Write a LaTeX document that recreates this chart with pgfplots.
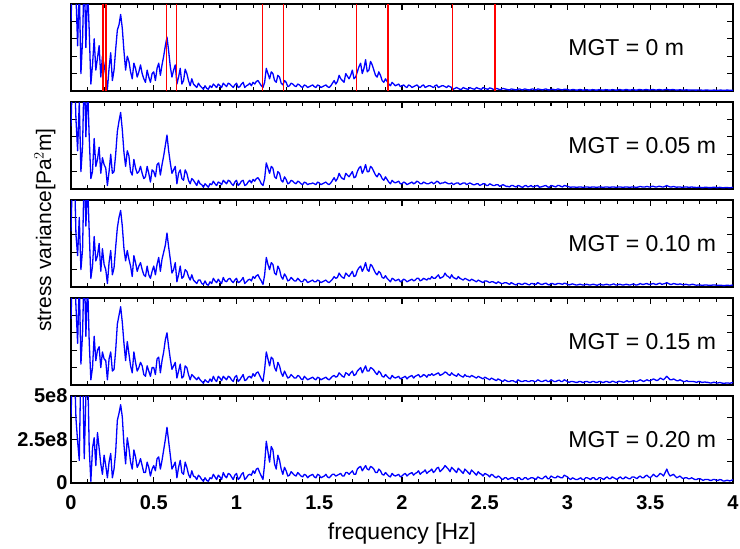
\documentclass[border=0pt]{standalone}
\usepackage{fontspec}
\setmainfont{Liberation Sans}
\usepackage{pgfplots}
\usepackage{pgfplotstable}
\pgfplotsset{compat=1.18}

% stress variance spectra in units of 1e8 Pa^2 m ; a: MGT=0, b: 0.05, c: 0.10, d: 0.15, e: 0.20
\pgfplotstableread{
f a b c d e
0.00 4.0 3.6 3.2 3.8 3.8
0.01 7.0 7.0 7.0 7.0 7.0
0.02 7.0 7.0 7.0 7.0 7.0
0.03 5.5 4.0 3.0 4.5 3.7
0.04 2.6 2.2 1.8 2.4 2.4
0.05 6.0 5.0 4.0 6.0 1.3
0.06 1.0 1.0 1.0 1.2 7.0
0.07 3.0 2.5 2.2 3.0 7.0
0.08 7.0 7.0 7.0 7.0 1.4
0.09 2.5 3.0 3.5 2.8 5.0
0.10 6.0 6.0 6.0 6.0 7.0
0.11 3.5 3.0 3.2 2.5 2.0
0.12 0.4 0.6 0.5 0.3 0.1
0.13 1.5 1.0 1.2 1.0 2.0
0.14 3.0 2.9 2.9 2.8 2.6
0.15 1.2 1.3 1.5 1.4 1.0
0.16 1.9 1.7 1.8 2.0 2.9
0.17 2.6 2.4 2.5 2.2 2.0
0.18 0.8 0.9 0.9 1.0 1.1
0.19 2.0 1.8 2.2 1.9 0.5
0.20 1.5 1.4 1.3 1.5 1.6
0.21 0.9 1.2 1.0 1.4 1.0
0.22 0.1 0.2 0.2 0.3 0.3
0.23 1.3 1.0 1.4 1.5 1.2
0.24 2.2 2.0 2.1 1.9 1.7
0.25 0.6 0.9 0.7 0.8 0.3
0.26 1.2 1.0 1.1 0.9 0.8
0.27 2.4 2.0 2.3 2.0 1.8
0.28 3.5 3.3 3.4 3.5 3.6
0.29 3.8 3.9 4.0 4.0 4.0
0.30 4.4 4.4 4.4 4.5 4.5
0.31 3.6 3.4 3.5 3.6 3.8
0.32 2.3 2.1 2.2 2.4 2.2
0.33 1.2 1.3 1.5 1.4 1.1
0.34 2.0 2.2 2.1 2.5 2.6
0.35 1.7 1.9 1.6 1.8 2.0
0.36 1.1 1.0 1.2 1.1 1.2
0.37 0.7 0.8 0.6 0.7 0.8
0.38 1.6 1.7 1.8 1.9 1.9
0.39 1.3 1.2 1.4 1.3 1.5
0.40 0.8 0.9 0.9 0.8 0.9
0.41 1.1 1.0 1.2 1.0 1.1
0.42 1.5 1.3 1.4 1.3 1.4
0.43 1.0 0.9 1.0 1.1 1.0
0.44 0.7 0.6 0.7 0.6 0.6
0.45 0.5 0.7 0.6 0.5 0.6
0.46 1.2 1.3 1.2 1.1 1.2
0.47 0.8 0.9 0.7 0.8 0.9
0.48 0.5 0.4 0.5 0.5 0.4
0.49 1.0 1.1 0.9 1.0 0.8
0.50 1.1 1.0 1.2 1.0 1.0
0.51 0.6 0.7 0.7 0.6 0.7
0.52 1.3 1.4 1.3 1.5 1.4
0.53 1.6 1.5 1.7 1.6 1.5
0.54 0.9 0.8 0.9 0.7 0.8
0.55 1.5 1.4 1.6 1.4 1.3
0.56 2.0 1.9 2.0 1.9 1.9
0.57 2.6 2.5 2.4 2.6 2.5
0.58 3.1 3.1 3.1 3.0 3.2
0.59 2.3 2.2 2.3 2.2 2.4
0.60 1.4 1.5 1.6 1.5 1.6
0.61 0.8 0.9 0.8 0.9 0.8
0.62 1.2 1.1 1.0 1.1 1.0
0.63 1.5 1.3 1.4 1.3 1.2
0.64 0.4 0.3 0.3 0.4 0.3
0.65 0.8 0.9 0.7 0.8 0.9
0.66 1.3 1.1 1.2 1.2 1.3
0.67 0.4 0.6 0.5 0.4 0.6
0.68 0.6 0.5 0.6 0.5 0.5
0.69 1.25 1.1 1.0 1.1 1.2
0.70 1.0 0.9 0.9 1.0 0.9
0.71 0.6 0.5 0.6 0.6 0.5
0.72 0.3 0.3 0.4 0.3 0.3
0.73 0.7 0.6 0.7 0.6 0.7
0.74 0.4 0.5 0.4 0.5 0.4
0.75 0.3 0.35 0.3 0.4 0.35
0.76 0.2 0.2 0.2 0.3 0.2
0.77 0.45 0.5 0.4 0.45 0.45
0.78 0.3 0.3 0.4 0.3 0.35
0.79 0.2 0.25 0.2 0.2 0.2
0.80 0.1 0.1 0.15 0.1 0.1
0.81 0.3 0.3 0.35 0.3 0.3
0.82 0.15 0.2 0.15 0.2 0.15
0.83 0.1 0.1 0.1 0.15 0.1
0.84 0.3 0.3 0.3 0.35 0.3
0.85 0.2 0.25 0.2 0.2 0.25
0.86 0.4 0.45 0.5 0.5 0.5
0.87 0.3 0.3 0.35 0.3 0.35
0.88 0.2 0.2 0.25 0.2 0.2
0.89 0.4 0.4 0.45 0.5 0.45
0.90 0.3 0.35 0.3 0.4 0.35
0.91 0.2 0.25 0.2 0.25 0.2
0.92 0.45 0.5 0.55 0.5 0.6
0.93 0.35 0.4 0.35 0.4 0.4
0.94 0.25 0.3 0.3 0.3 0.3
0.95 0.45 0.5 0.45 0.5 0.55
0.96 0.4 0.45 0.5 0.45 0.5
0.97 0.3 0.3 0.35 0.3 0.35
0.98 0.2 0.2 0.25 0.2 0.2
0.99 0.35 0.4 0.4 0.45 0.45
1.00 0.45 0.5 0.5 0.55 0.55
1.01 0.2 0.2 0.25 0.2 0.2
1.02 0.25 0.3 0.3 0.3 0.3
1.03 0.4 0.45 0.4 0.45 0.5
1.04 0.5 0.5 0.55 0.6 0.6
1.05 0.2 0.2 0.2 0.25 0.2
1.06 0.3 0.25 0.3 0.3 0.3
1.07 0.35 0.4 0.4 0.45 0.45
1.08 0.45 0.5 0.45 0.5 0.5
1.09 0.3 0.35 0.35 0.4 0.45
1.10 0.5 0.55 0.6 0.65 0.7
1.11 0.4 0.45 0.5 0.5 0.55
1.12 0.55 0.6 0.65 0.7 0.8
1.13 0.6 0.65 0.7 0.75 0.85
1.14 0.45 0.5 0.5 0.55 0.6
1.15 0.3 0.3 0.35 0.35 0.4
1.16 0.2 0.2 0.15 0.2 0.2
1.17 0.5 0.6 0.7 0.9 1.1
1.18 1.3 1.5 1.7 1.9 2.4
1.19 1.0 1.2 1.3 1.5 1.8
1.20 0.7 0.9 1.0 1.1 1.2
1.21 1.1 1.3 1.4 1.6 2.1
1.22 1.0 1.2 1.3 1.5 1.9
1.23 0.6 0.7 0.8 1.0 1.1
1.24 0.5 0.6 0.7 0.8 0.8
1.25 0.9 1.0 1.2 1.3 1.6
1.26 0.8 0.9 1.0 1.1 1.3
1.27 0.45 0.5 0.6 0.7 0.8
1.28 0.35 0.4 0.45 0.5 0.5
1.29 0.6 0.7 0.75 0.8 0.9
1.30 0.5 0.55 0.6 0.6 0.7
1.31 0.25 0.3 0.35 0.4 0.4
1.32 0.3 0.35 0.4 0.45 0.45
1.33 0.45 0.5 0.55 0.6 0.65
1.34 0.4 0.45 0.45 0.5 0.55
1.35 0.3 0.35 0.35 0.4 0.45
1.36 0.25 0.3 0.35 0.4 0.4
1.37 0.4 0.45 0.5 0.55 0.6
1.38 0.35 0.4 0.4 0.5 0.5
1.39 0.25 0.3 0.3 0.35 0.4
1.40 0.2 0.25 0.3 0.3 0.35
1.41 0.35 0.4 0.45 0.5 0.5
1.42 0.3 0.35 0.4 0.4 0.45
1.43 0.2 0.25 0.25 0.3 0.3
1.44 0.25 0.3 0.3 0.35 0.4
1.45 0.3 0.3 0.35 0.4 0.45
1.46 0.35 0.35 0.4 0.45 0.5
1.47 0.25 0.3 0.3 0.35 0.35
1.48 0.2 0.25 0.3 0.3 0.3
1.49 0.35 0.4 0.4 0.45 0.5
1.50 0.3 0.35 0.35 0.4 0.45
1.51 0.2 0.25 0.25 0.3 0.3
1.52 0.25 0.3 0.3 0.35 0.35
1.53 0.3 0.35 0.35 0.4 0.4
1.54 0.35 0.4 0.4 0.45 0.5
1.55 0.25 0.3 0.3 0.35 0.35
1.56 0.2 0.25 0.25 0.3 0.3
1.57 0.3 0.35 0.35 0.4 0.4
1.58 0.45 0.5 0.45 0.5 0.5
1.59 0.6 0.65 0.6 0.55 0.5
1.60 0.4 0.45 0.5 0.45 0.4
1.61 0.55 0.6 0.55 0.5 0.45
1.62 0.9 0.9 0.8 0.7 0.5
1.63 0.7 0.7 0.65 0.6 0.55
1.64 0.6 0.6 0.55 0.5 0.4
1.65 0.5 0.55 0.5 0.45 0.4
1.66 1.0 0.9 0.8 0.7 0.6
1.67 0.85 0.8 0.7 0.65 0.6
1.68 0.7 0.7 0.6 0.55 0.5
1.69 0.9 0.85 0.75 0.7 0.6
1.70 1.2 1.0 0.9 0.8 0.7
1.71 0.7 0.65 0.6 0.55 0.5
1.72 0.8 0.7 0.65 0.6 0.5
1.73 1.1 1.0 0.95 0.8 0.8
1.74 1.4 1.2 1.1 0.9 0.9
1.75 1.6 1.3 1.2 1.0 0.95
1.76 1.0 0.9 0.9 0.7 0.7
1.77 1.3 1.1 1.1 0.9 0.85
1.78 1.8 1.4 1.4 1.1 1.0
1.79 1.1 1.0 1.0 0.8 0.8
1.80 1.2 1.0 0.9 0.8 0.75
1.81 1.7 1.3 1.3 1.0 0.95
1.82 1.5 1.2 1.2 0.95 0.9
1.83 1.2 1.0 1.0 0.85 0.8
1.84 0.9 0.8 0.8 0.7 0.6
1.85 0.8 0.7 0.7 0.6 0.6
1.86 1.1 0.9 0.9 0.8 0.8
1.87 0.9 0.8 0.8 0.7 0.7
1.88 0.6 0.6 0.55 0.5 0.5
1.89 0.5 0.5 0.5 0.45 0.45
1.90 0.7 0.7 0.65 0.6 0.6
1.91 0.55 0.55 0.5 0.5 0.5
1.92 0.4 0.4 0.4 0.4 0.4
1.93 0.3 0.3 0.3 0.35 0.35
1.94 0.5 0.5 0.5 0.55 0.55
1.95 0.4 0.4 0.45 0.45 0.45
1.96 0.3 0.35 0.35 0.4 0.4
1.97 0.35 0.4 0.4 0.45 0.45
1.98 0.4 0.45 0.45 0.5 0.5
1.99 0.25 0.3 0.3 0.35 0.35
2.00 0.3 0.3 0.35 0.4 0.4
2.01 0.35 0.4 0.45 0.45 0.5
2.02 0.25 0.35 0.4 0.5 0.55
2.03 0.2 0.25 0.3 0.35 0.4
2.04 0.35 0.3 0.35 0.45 0.5
2.05 0.3 0.35 0.4 0.5 0.55
2.06 0.2 0.4 0.45 0.55 0.6
2.07 0.25 0.3 0.35 0.4 0.45
2.08 0.3 0.35 0.4 0.5 0.55
2.09 0.35 0.45 0.5 0.55 0.6
2.10 0.25 0.4 0.5 0.6 0.7
2.11 0.2 0.3 0.35 0.45 0.5
2.12 0.3 0.3 0.4 0.5 0.6
2.13 0.35 0.4 0.5 0.6 0.65
2.14 0.2 0.35 0.45 0.55 0.75
2.15 0.25 0.3 0.4 0.45 0.55
2.16 0.3 0.3 0.5 0.6 0.65
2.17 0.3 0.35 0.45 0.55 0.7
2.18 0.25 0.4 0.6 0.65 0.8
2.19 0.2 0.3 0.5 0.55 0.6
2.20 0.3 0.35 0.5 0.6 0.7
2.21 0.35 0.45 0.6 0.65 0.85
2.22 0.2 0.4 0.7 0.7 0.9
2.23 0.25 0.3 0.5 0.55 0.65
2.24 0.3 0.35 0.55 0.6 0.75
2.25 0.3 0.35 0.6 0.65 0.85
2.26 0.25 0.4 0.8 0.75 1.0
2.27 0.2 0.35 0.65 0.7 0.9
2.28 0.3 0.3 0.6 0.6 0.8
2.29 0.25 0.3 0.5 0.55 0.65
2.30 0.2 0.35 0.7 0.7 0.9
2.31 0.1 0.25 0.55 0.6 0.8
2.32 0.15 0.3 0.5 0.55 0.7
2.33 0.2 0.35 0.45 0.5 0.6
2.34 0.15 0.35 0.6 0.65 0.85
2.35 0.1 0.25 0.5 0.55 0.75
2.36 0.1 0.3 0.45 0.5 0.65
2.37 0.2 0.35 0.4 0.45 0.55
2.38 0.15 0.35 0.5 0.6 0.8
2.39 0.12 0.25 0.45 0.5 0.7
2.40 0.1 0.3 0.4 0.5 0.6
2.41 0.2 0.35 0.35 0.45 0.5
2.42 0.15 0.3 0.45 0.55 0.75
2.43 0.12 0.25 0.4 0.5 0.65
2.44 0.1 0.25 0.35 0.45 0.55
2.45 0.2 0.3 0.3 0.4 0.45
2.46 0.15 0.3 0.4 0.5 0.65
2.47 0.12 0.2 0.35 0.45 0.55
2.48 0.1 0.25 0.3 0.4 0.5
2.49 0.2 0.3 0.25 0.35 0.4
2.50 0.15 0.3 0.35 0.45 0.55
2.51 0.12 0.2 0.35 0.4 0.5
2.52 0.1 0.2 0.3 0.35 0.45
2.53 0.18 0.3 0.25 0.3 0.35
2.54 0.15 0.25 0.3 0.4 0.5
2.55 0.1 0.2 0.3 0.35 0.45
2.56 0.1 0.2 0.25 0.3 0.35
2.57 0.15 0.25 0.2 0.25 0.3
2.58 0.12 0.25 0.3 0.35 0.4
2.59 0.08 0.15 0.25 0.3 0.35
2.60 0.1 0.2 0.2 0.25 0.25
2.61 0.15 0.25 0.2 0.2 0.2
2.62 0.12 0.2 0.25 0.3 0.3
2.63 0.1 0.15 0.25 0.25 0.3
2.64 0.08 0.15 0.2 0.2 0.2
2.65 0.06 0.12 0.15 0.2 0.25
2.66 0.12 0.2 0.25 0.25 0.3
2.67 0.1 0.2 0.2 0.25 0.3
2.68 0.08 0.15 0.15 0.2 0.2
2.69 0.06 0.12 0.12 0.15 0.2
2.70 0.1 0.2 0.2 0.3 0.3
2.71 0.12 0.18 0.2 0.25 0.3
2.72 0.08 0.12 0.15 0.2 0.2
2.73 0.06 0.1 0.15 0.2 0.2
2.74 0.12 0.18 0.22 0.25 0.3
2.75 0.1 0.2 0.2 0.25 0.3
2.76 0.07 0.12 0.15 0.2 0.2
2.77 0.06 0.15 0.12 0.2 0.25
2.78 0.1 0.2 0.2 0.25 0.3
2.79 0.12 0.12 0.2 0.25 0.3
2.80 0.08 0.15 0.15 0.2 0.25
2.81 0.06 0.18 0.15 0.2 0.2
2.82 0.12 0.2 0.25 0.3 0.35
2.83 0.1 0.1 0.2 0.25 0.3
2.84 0.08 0.12 0.15 0.2 0.25
2.85 0.06 0.15 0.15 0.2 0.25
2.86 0.1 0.18 0.2 0.25 0.35
2.87 0.12 0.2 0.22 0.28 0.4
2.88 0.07 0.12 0.15 0.2 0.25
2.89 0.06 0.1 0.12 0.2 0.25
2.90 0.1 0.2 0.2 0.3 0.4
2.91 0.1 0.18 0.2 0.25 0.35
2.92 0.08 0.15 0.15 0.2 0.3
2.93 0.06 0.12 0.15 0.2 0.3
2.94 0.12 0.2 0.2 0.25 0.4
2.95 0.1 0.2 0.2 0.28 0.35
2.96 0.08 0.15 0.18 0.2 0.3
2.97 0.06 0.12 0.15 0.2 0.3
2.98 0.1 0.2 0.22 0.3 0.45
2.99 0.1 0.18 0.2 0.25 0.4
3.00 0.08 0.15 0.15 0.2 0.35
3.01 0.06 0.12 0.12 0.15 0.25
3.02 0.06 0.1 0.15 0.2 0.2
3.03 0.08 0.12 0.18 0.2 0.3
3.04 0.08 0.12 0.15 0.18 0.25
3.05 0.05 0.1 0.12 0.15 0.2
3.06 0.05 0.1 0.12 0.15 0.2
3.07 0.08 0.12 0.15 0.2 0.25
3.08 0.08 0.12 0.15 0.2 0.3
3.09 0.05 0.1 0.12 0.15 0.2
3.10 0.05 0.1 0.12 0.15 0.2
3.11 0.08 0.12 0.15 0.2 0.3
3.12 0.07 0.12 0.15 0.2 0.3
3.13 0.05 0.1 0.12 0.15 0.25
3.14 0.05 0.1 0.12 0.15 0.2
3.15 0.08 0.12 0.15 0.2 0.3
3.16 0.07 0.12 0.15 0.2 0.3
3.17 0.05 0.1 0.12 0.15 0.2
3.18 0.05 0.1 0.1 0.15 0.2
3.19 0.08 0.12 0.15 0.2 0.3
3.20 0.07 0.12 0.15 0.2 0.3
3.21 0.05 0.1 0.12 0.15 0.25
3.22 0.05 0.1 0.12 0.15 0.2
3.23 0.08 0.12 0.15 0.2 0.3
3.24 0.07 0.12 0.15 0.2 0.35
3.25 0.05 0.1 0.12 0.15 0.25
3.26 0.05 0.1 0.12 0.15 0.25
3.27 0.08 0.12 0.15 0.22 0.35
3.28 0.07 0.12 0.18 0.2 0.3
3.29 0.05 0.1 0.12 0.15 0.25
3.30 0.05 0.1 0.12 0.15 0.2
3.31 0.08 0.12 0.15 0.22 0.3
3.32 0.08 0.12 0.15 0.2 0.35
3.33 0.05 0.1 0.12 0.18 0.25
3.34 0.05 0.1 0.12 0.15 0.25
3.35 0.08 0.12 0.15 0.2 0.35
3.36 0.08 0.12 0.15 0.25 0.3
3.37 0.05 0.1 0.12 0.18 0.25
3.38 0.05 0.1 0.12 0.2 0.25
3.39 0.08 0.12 0.15 0.22 0.35
3.40 0.08 0.12 0.18 0.25 0.35
3.41 0.05 0.1 0.12 0.2 0.3
3.42 0.05 0.1 0.12 0.2 0.25
3.43 0.08 0.12 0.15 0.25 0.35
3.44 0.08 0.15 0.2 0.3 0.4
3.45 0.06 0.12 0.15 0.25 0.3
3.46 0.06 0.12 0.15 0.2 0.3
3.47 0.08 0.12 0.18 0.25 0.4
3.48 0.08 0.15 0.2 0.3 0.45
3.49 0.06 0.12 0.15 0.25 0.35
3.50 0.06 0.12 0.15 0.25 0.3
3.51 0.08 0.15 0.18 0.3 0.4
3.52 0.08 0.15 0.2 0.35 0.5
3.53 0.06 0.12 0.15 0.3 0.4
3.54 0.06 0.12 0.15 0.25 0.35
3.55 0.08 0.15 0.2 0.3 0.45
3.56 0.08 0.15 0.22 0.4 0.55
3.57 0.06 0.12 0.15 0.35 0.5
3.58 0.06 0.12 0.18 0.3 0.4
3.59 0.08 0.15 0.2 0.4 0.6
3.60 0.1 0.2 0.25 0.5 0.8
3.61 0.07 0.15 0.2 0.4 0.55
3.62 0.06 0.12 0.15 0.3 0.4
3.63 0.08 0.12 0.15 0.3 0.45
3.64 0.08 0.15 0.2 0.35 0.5
3.65 0.06 0.12 0.18 0.3 0.4
3.66 0.05 0.1 0.15 0.25 0.3
3.67 0.06 0.12 0.15 0.25 0.35
3.68 0.07 0.12 0.18 0.3 0.4
3.69 0.06 0.1 0.15 0.25 0.3
3.70 0.05 0.1 0.12 0.2 0.25
3.71 0.06 0.12 0.15 0.2 0.3
3.72 0.07 0.12 0.15 0.25 0.3
3.73 0.05 0.1 0.12 0.2 0.25
3.74 0.05 0.1 0.12 0.2 0.25
3.75 0.06 0.12 0.15 0.2 0.3
3.76 0.06 0.1 0.15 0.2 0.25
3.77 0.05 0.1 0.12 0.18 0.2
3.78 0.05 0.08 0.1 0.15 0.2
3.79 0.06 0.1 0.12 0.2 0.25
3.80 0.06 0.1 0.12 0.2 0.25
3.81 0.05 0.08 0.1 0.15 0.2
3.82 0.04 0.08 0.1 0.15 0.15
3.83 0.05 0.1 0.12 0.18 0.2
3.84 0.06 0.1 0.12 0.15 0.2
3.85 0.05 0.08 0.1 0.15 0.2
3.86 0.04 0.08 0.1 0.12 0.15
3.87 0.04 0.08 0.1 0.12 0.15
3.88 0.05 0.1 0.12 0.15 0.2
3.89 0.05 0.1 0.12 0.15 0.2
3.90 0.04 0.08 0.1 0.12 0.15
3.91 0.04 0.08 0.1 0.12 0.15
3.92 0.05 0.1 0.1 0.15 0.2
3.93 0.05 0.08 0.1 0.12 0.18
3.94 0.04 0.07 0.08 0.1 0.12
3.95 0.04 0.08 0.08 0.1 0.12
3.96 0.05 0.09 0.1 0.12 0.15
3.97 0.05 0.08 0.1 0.12 0.15
3.98 0.04 0.07 0.08 0.1 0.12
3.99 0.04 0.08 0.1 0.12 0.15
4.00 0.05 0.1 0.12 0.15 0.2
}\spectra

% red marker frequencies (top panel)
\pgfplotstableread{
f v
0.195 5
0.211 5
0.578 5
0.638 5
1.156 5
1.283 5
1.726 5
1.917 5
2.306 5
2.562 5
}\bands

\pgfplotsset{
  panel/.style={
    width=662pt, height=87pt, scale only axis,
    anchor=north west,
    xmin=0, xmax=4, ymin=0, ymax=5,
    xtick={0,0.5,1,1.5,2,2.5,3,3.5,4},
    minor x tick num=4,
    xticklabels={},
    ytick={1,2,3,4}, yticklabels={},
    tick align=inside,
    major tick length=6pt, minor tick length=4pt,
    axis line style={line width=1.3pt},
    every tick/.style={black, line width=1.1pt},
    tick label style={font=\fontsize{20}{20}\selectfont\bfseries},
  },
  spec/.style={blue, line width=1.3pt, line join=round},
}
\tikzset{mgt/.style={anchor=west, inner sep=0pt, font=\fontsize{23}{23}\selectfont}}

\begin{document}
\begin{tikzpicture}[x=1pt,y=1pt]
\path[use as bounding box] (0,0) rectangle (740,-549);

\begin{axis}[panel, at={(71pt,-4pt)}]
  \addplot[spec] table[x=f,y=a] {\spectra};
  \addplot[ycomb, red, line width=1.6pt] table[x=f,y=v] {\bands};
  \node[mgt] at (rel axis cs:0.751,0.5) {MGT = 0 m};
\end{axis}

\begin{axis}[panel, at={(71pt,-102pt)}]
  \addplot[spec] table[x=f,y=b] {\spectra};
  \node[mgt] at (rel axis cs:0.751,0.5) {MGT = 0.05 m};
\end{axis}

\begin{axis}[panel, at={(71pt,-200pt)}]
  \addplot[spec] table[x=f,y=c] {\spectra};
  \node[mgt] at (rel axis cs:0.751,0.5) {MGT = 0.10 m};
\end{axis}

\begin{axis}[panel, at={(71pt,-298pt)}]
  \addplot[spec] table[x=f,y=d] {\spectra};
  \node[mgt] at (rel axis cs:0.751,0.5) {MGT = 0.15 m};
\end{axis}

\begin{axis}[panel, at={(71pt,-396pt)},
    xticklabels={0,0.5,1,1.5,2,2.5,3,3.5,4},
    xticklabel style={anchor=base, yshift=-26pt},
    ytick={0,1.25,2.5,3.75,5}, yticklabels={0,{},2.5e8,{},5e8},
    xlabel={frequency [Hz]},
    xlabel style={at={(axis description cs:0.5,-0.644)}, anchor=base, font=\fontsize{23}{23}\selectfont},
  ]
  \addplot[spec] table[x=f,y=e] {\spectra};
  \node[mgt] at (rel axis cs:0.751,0.5) {MGT = 0.20 m};
\end{axis}

\node[rotate=90, font=\fontsize{21}{21}\selectfont] at (45,-230) {stress variance[Pa$^2$m]};
\end{tikzpicture}
\end{document}
